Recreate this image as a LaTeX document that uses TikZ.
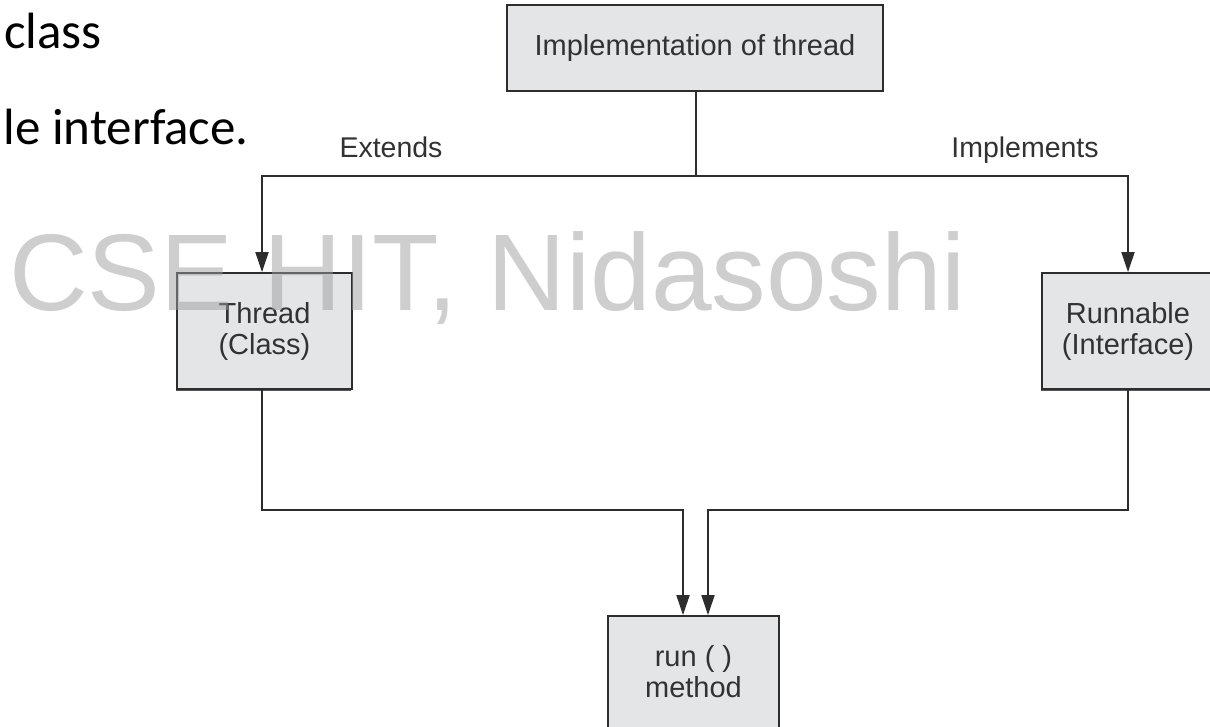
\documentclass[tikz,border=0pt]{standalone}
\usepackage{fontspec}
\setmainfont{Liberation Sans}
\newfontfamily\calib{Carlito}
\usetikzlibrary{arrows.meta,shadows}
\definecolor{boxfill}{RGB}{228,229,231}
\definecolor{linec}{RGB}{45,45,45}
\definecolor{txtc}{RGB}{50,50,50}
\definecolor{wmark}{RGB}{158,158,158}
\tikzset{
  blk/.style={draw=linec, line width=1.8pt, fill=boxfill, rectangle, align=center,
    text=txtc, font=\fontsize{29}{31}\selectfont, inner sep=0pt,
    drop shadow={shadow xshift=-1.5pt, shadow yshift=-1.5pt, fill=linec!80, opacity=1}},
  conn/.style={draw=linec, line width=1.8pt},
  arr/.style={conn, -{Triangle[length=20pt, width=13pt]}},
  lbl/.style={text=txtc, font=\fontsize{28.5}{30}\selectfont, inner sep=0pt, anchor=base},
  slide/.style={inner sep=0pt, font=\calib\fontsize{51}{56}\selectfont},
}
\begin{document}
\begin{tikzpicture}[x=1pt, y=-1pt]
\useasboundingbox (0,0) rectangle (1210,727);
\fill[white] (0,0) rectangle (1210,727);
% slide text
\node[slide, anchor=base west] (t1) at (4,49) {class};
\node[slide, anchor=base east] (t2) at (249,145) {le interface.};
% boxes
\node[blk, minimum width=376pt, minimum height=86pt] (top) at (695,48) {Implementation of thread};
\node[blk, minimum width=175pt, minimum height=116pt] (thread) at (264.5,331) {Thread\\(Class)};
\node[blk, minimum width=172pt, minimum height=116pt] (runnable) at (1128,331) {Runnable\\(Interface)};
\node[blk, minimum width=171pt, minimum height=112pt] (run) at (693.5,672) {run ( )\\method};
% junctions
\coordinate (j) at (696,176);
\coordinate (jl) at (262,176);
\coordinate (jr) at (1128,176);
\coordinate (ml) at (683,510);
\coordinate (mr) at (708,510);
% connectors
\draw[conn] (top.south -| j) -- (j);
\draw[arr] (j) -- (jl) -- (thread.north -| jl);
\draw[arr] (j) -- (jr) -- (runnable.north -| jr);
\draw[arr] (thread.south -| jl) |- (ml) -- (run.north -| ml);
\draw[arr] (runnable.south -| jr) |- (mr) -- (run.north -| mr);
% labels
\node[lbl] (ext) at (391,158) {Extends};
\node[lbl] (imp) at (1025,158) {Implements};
% watermark
\node[anchor=base west, inner sep=0pt, text=wmark, text opacity=0.5,
  font=\fontsize{109}{120}\selectfont] (wm) at (9,310) {CSE HIT, Nidasoshi};
\end{tikzpicture}
\end{document}
